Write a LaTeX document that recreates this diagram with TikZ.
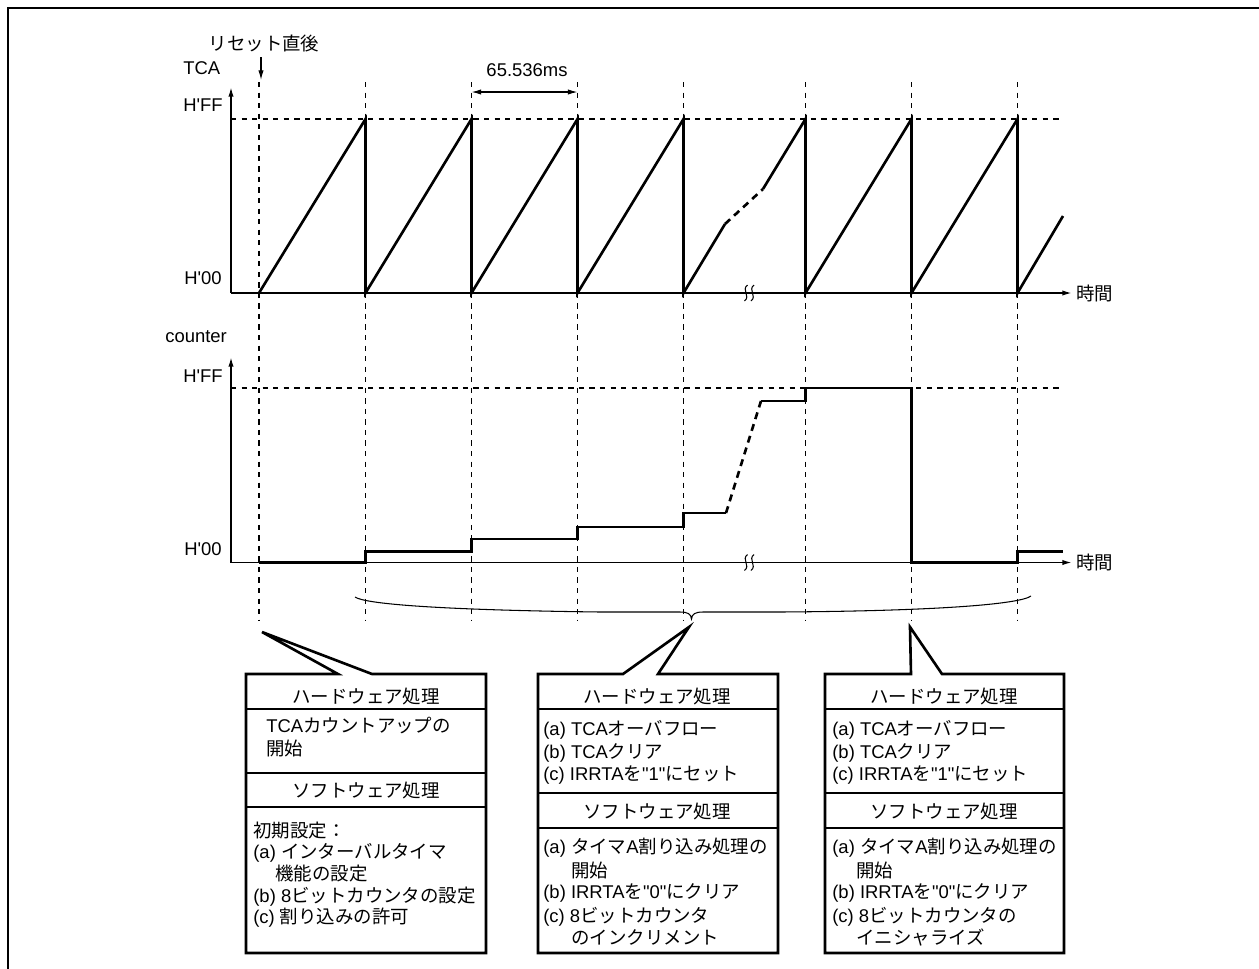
\documentclass[tikz,border=0pt]{standalone}
\usepackage{fontspec}
\setmainfont{Liberation Sans}[Ligatures=TeXOff]
\newfontfamily\jpfont{Noto Sans CJK JP}
\newcommand{\jp}[1]{{\jpfont #1}}
\usetikzlibrary{arrows.meta}
\tikzset{
    >={Latex[length=5.5pt,width=3pt]},
    lbl/.style={inner sep=0pt,font=\fontsize{10.5}{12}\selectfont},
    txt/.style={lbl,anchor=base west},
    head/.style={lbl,anchor=base},
    guide/.style={dash pattern=on 3pt off 3pt,line width=0.8pt},
    axis/.style={line width=0.9pt},
    wave/.style={line width=1.5pt},
    skip/.style={wave,dash pattern=on 4pt off 3pt},
    boxline/.style={line width=1.5pt},
}
\begin{document}
\begin{tikzpicture}[x=0.02cm,y=-0.02cm]
        \useasboundingbox (0,0) rectangle (1259,968);
        \draw[line width=1.5pt] (8,990) -- (8,8) -- (1280,8);
        % time marks
        \foreach \x in {259,365.5,471.5,577.5,683.5,805.5,911.5,1017.5}
            \draw[guide] (\x,82) -- (\x,620);
        % TCA
        \node[lbl,anchor=west] (tcalbl) at (183,68) {TCA};
        \node[lbl,anchor=east] (tcaff) at (223,105) {H'FF};
        \node[lbl,anchor=east] (tca00) at (222,278) {H'00};
        \node[lbl] (reset) at (264,43) {\jp{リセット直後}};
        \coordinate (rst) at (261,80);
        \draw[line width=0.6pt,->,shorten <=3pt] (rst |- reset.south) -- (rst);
        \node[lbl] (period) at (527,70) {65.536ms};
        \coordinate (p1) at (471.5,92);
        \coordinate (p2) at (577.5,92);
        \draw[line width=0.6pt,<->] (p1) -- (p2);
        \draw[guide] (231,119) -- (1060,119);
        \draw[axis,->] (231,293) -- (231,87);
        \draw[axis,->] (231,293) -- (1072,293) node[lbl,anchor=west,xshift=2pt] (tcat) {\jp{時間}};
        \draw[wave] (259,293) -- (365.5,119) -- (365.5,293) -- (471.5,119) -- (471.5,293) -- (577.5,119) -- (577.5,293)
            -- (683.5,119) -- (683.5,293) -- (725,224);
        \draw[skip] (725,224) -- (763,189);
        \draw[wave] (763,189) -- (805.5,119) -- (805.5,293) -- (911.5,119) -- (911.5,293) -- (1017.5,119) -- (1017.5,293) -- (1063,216);
        % counter
        \node[lbl,anchor=west] (cntlbl) at (165,337) {counter};
        \node[lbl,anchor=east] (cntff) at (223,376) {H'FF};
        \node[lbl,anchor=east] (cnt00) at (222,549) {H'00};
        \draw[guide] (231,388) -- (1060,388);
        \draw[axis,->] (231,562.5) -- (231,357);
        \draw[axis,->] (231,562.5) -- (1072,562.5) node[lbl,anchor=west,xshift=2pt] (cntt) {\jp{時間}};
        \draw[wave] (259,562.5) -- (365.5,562.5) -- (365.5,551.7) -- (471.5,551.7) -- (471.5,539) -- (577.5,539) -- (577.5,527)
            -- (683.5,527) -- (683.5,513) -- (726,513);
        \draw[skip] (726,513) -- (761,401);
        \draw[wave] (761,401) -- (805.5,401) -- (805.5,388) -- (911.5,388) -- (911.5,562.5) -- (1017.5,562.5) -- (1017.5,551.7) -- (1063,551.7);
        % breaks
        \foreach \y in {293,562.5}
            \foreach \x in {746,752.5}
                \draw[line width=0.6pt] (\x+1.5,\y-8) .. controls (\x-5,\y-3) and (\x+5,\y+3) .. (\x-1.5,\y+8);
        % brace
        \draw[line width=0.6pt] (355,597) .. controls (365,604) and (440,610) .. (600,612) -- (680,612)
            .. controls (688,612) and (691,614) .. (691.5,619) .. controls (692,614) and (695,612) .. (703,612)
            -- (780,612) .. controls (940,611) and (1020,604) .. (1031,596);
        % box 1
        \draw[boxline] (246,674) -- (338,674) -- (262,632) -- (372,674) -- (486,674) -- (486,953) -- (246,953) -- cycle;
        \draw[boxline] (246,709) -- (486,709) (246,773) -- (486,773) (246,807) -- (486,807);
        \node[head] (hw1) at (366,703) {\jp{ハードウェア処理}};
        \node[txt] (hw1a) at (266,732) {TCA\jp{カウントアップの}};
        \node[txt] (hw1b) at (266,755) {\jp{開始}};
        \node[head] (sw1) at (366,797) {\jp{ソフトウェア処理}};
        \node[txt] (sw1a) at (253,837) {\jp{初期設定：}};
        \node[txt] (sw1b) at (253,858.5) {(a) \jp{インターバルタイマ}};
        \node[txt] (sw1c) at (275,880) {\jp{機能の設定}};
        \node[txt] (sw1d) at (253,902) {(b) 8\jp{ビットカウンタの設定}};
        \node[txt] (sw1e) at (253,923.5) {(c) \jp{割り込みの許可}};
        % box 2
        \draw[boxline] (538,674) -- (623,674) -- (689,627) -- (658,674) -- (778,674) -- (778,953) -- (538,953) -- cycle;
        \draw[boxline] (538,709) -- (778,709) (538,793) -- (778,793) (538,828) -- (778,828);
        \node[head] (hw2) at (657,703) {\jp{ハードウェア処理}};
        \node[txt] (hw2a) at (543,735) {(a) TCA\jp{オーバフロー}};
        \node[txt] (hw2b) at (543,758) {(b) TCA\jp{クリア}};
        \node[txt] (hw2c) at (543,780) {(c) IRRTA\jp{を}"1"\jp{にセット}};
        \node[head] (sw2) at (657,818.5) {\jp{ソフトウェア処理}};
        \node[txt] (sw2a) at (543,853.5) {(a) \jp{タイマ}A\jp{割り込み処理の}};
        \node[txt] (sw2b) at (571,877) {\jp{開始}};
        \node[txt] (sw2c) at (543,898.5) {(b) IRRTA\jp{を}"0"\jp{にクリア}};
        \node[txt] (sw2d) at (543,922) {(c) 8\jp{ビットカウンタ}};
        \node[txt] (sw2e) at (571,944) {\jp{のインクリメント}};
        % box 3
        \draw[boxline] (825,674) -- (911,674) -- (910,627) -- (942,674) -- (1064,674) -- (1064,953) -- (825,953) -- cycle;
        \draw[boxline] (825,709) -- (1064,709) (825,793) -- (1064,793) (825,828) -- (1064,828);
        \node[head] (hw3) at (944,703) {\jp{ハードウェア処理}};
        \node[txt] (hw3a) at (832,735) {(a) TCA\jp{オーバフロー}};
        \node[txt] (hw3b) at (832,758) {(b) TCA\jp{クリア}};
        \node[txt] (hw3c) at (832,780) {(c) IRRTA\jp{を}"1"\jp{にセット}};
        \node[head] (sw3) at (944,818.5) {\jp{ソフトウェア処理}};
        \node[txt] (sw3a) at (832,853.5) {(a) \jp{タイマ}A\jp{割り込み処理の}};
        \node[txt] (sw3b) at (856,877) {\jp{開始}};
        \node[txt] (sw3c) at (832,898.5) {(b) IRRTA\jp{を}"0"\jp{にクリア}};
        \node[txt] (sw3d) at (832,922) {(c) 8\jp{ビットカウンタの}};
        \node[txt] (sw3e) at (856,944) {\jp{イニシャライズ}};
    \end{tikzpicture}
\end{document}
